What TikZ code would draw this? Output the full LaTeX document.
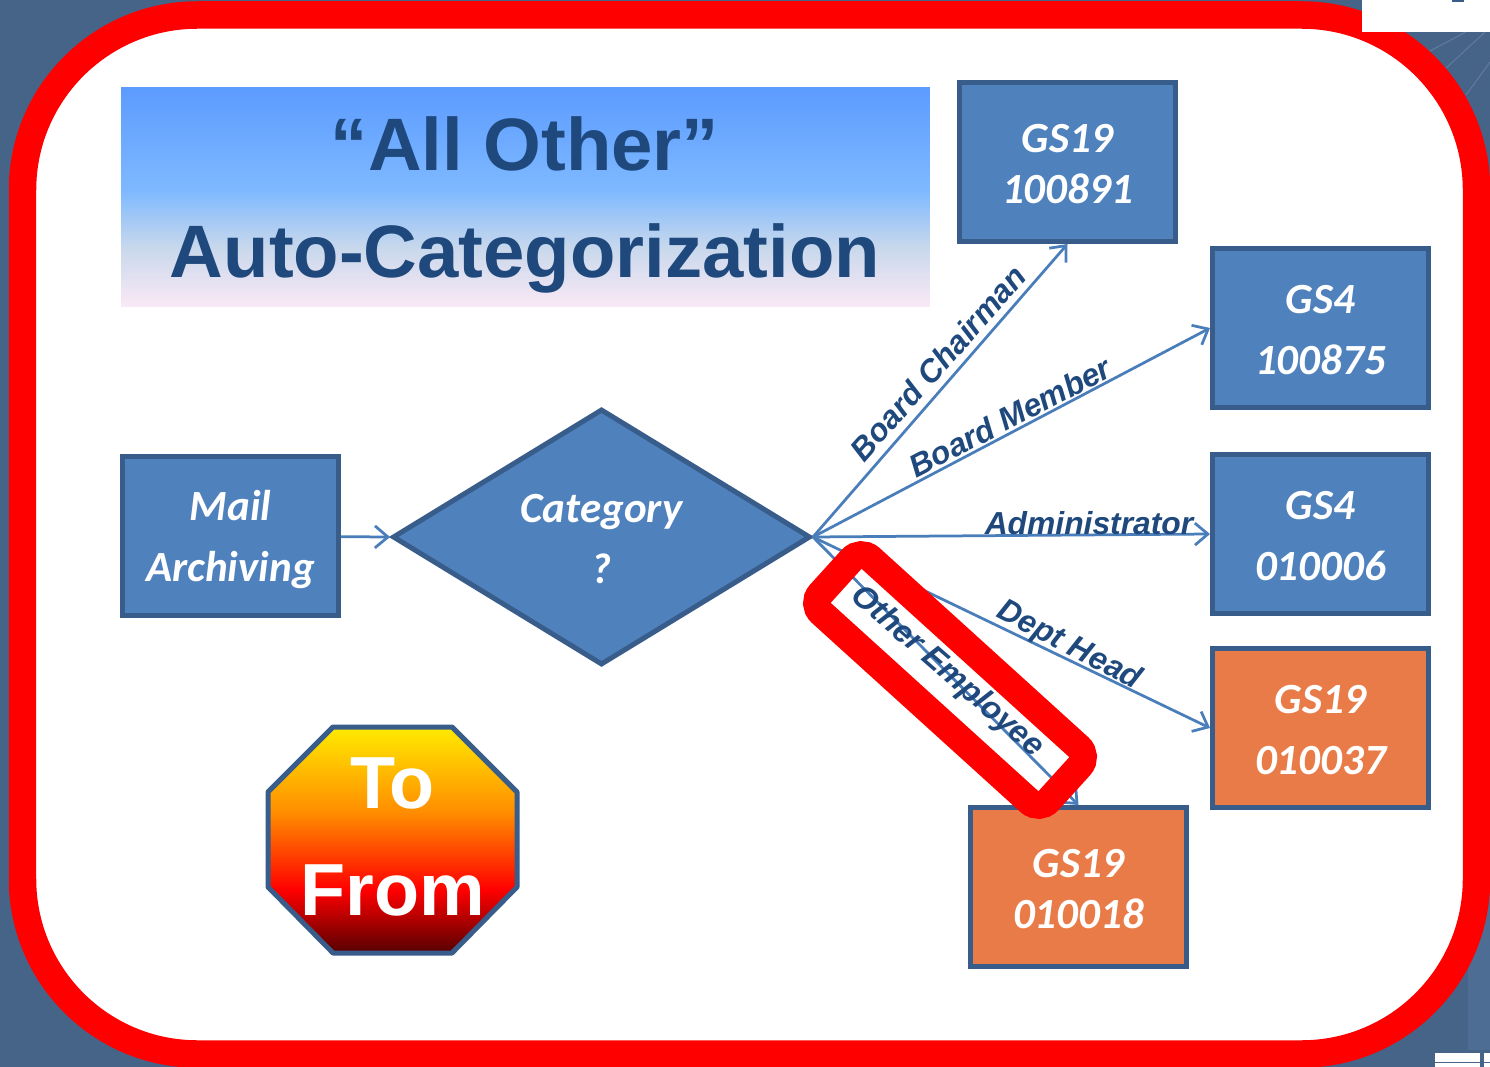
\documentclass[tikz,border=0pt]{standalone}
\usepackage{fontspec}
\setmainfont{Liberation Sans}
\newfontfamily\carlito{Carlito}
\usetikzlibrary{shapes.geometric,arrows.meta}
\definecolor{slide}{HTML}{466488}
\definecolor{panel}{HTML}{4E6D94}
\definecolor{navy}{HTML}{1F497D}
\definecolor{boxfill}{HTML}{4F81BD}
\definecolor{boxline}{HTML}{385D8A}
\definecolor{orangefill}{HTML}{E97B48}
\definecolor{wire}{HTML}{4A7EBB}
\definecolor{skyblue}{HTML}{5C9BFF}
\definecolor{midblue}{HTML}{7EB9FF}
\definecolor{greyblue}{HTML}{C8D8EC}
\definecolor{palepink}{HTML}{FBE9F6}
\definecolor{darkred}{HTML}{560000}
\definecolor{signyellow}{HTML}{FFEA00}
\pgfdeclareverticalshading{tofrom}{100bp}{color(0bp)=(darkred); color(25bp)=(darkred); color(39bp)=(red); color(56bp)=(orange!90!yellow); color(75bp)=(signyellow); color(100bp)=(signyellow)}
\pgfdeclareverticalshading{titlefade}{100bp}{color(0bp)=(palepink); color(25bp)=(palepink); color(38.5bp)=(greyblue); color(51.5bp)=(midblue); color(75bp)=(skyblue); color(100bp)=(skyblue)}
\newcommand\toplift{\rule{0pt}{18.5pt}}
\tikzset{
  box/.style={draw=boxline, fill=boxfill, line width=0.1cm, minimum width=4.32cm, minimum height=3.18cm, inner sep=0pt, text=white, align=center, font=\carlito\bfseries\itshape\fontsize{24.5}{29}\selectfont},
  wide/.style={font=\carlito\bfseries\itshape\fontsize{24.5}{34.7}\selectfont},
  hot/.style={fill=orangefill},
  wirelabel/.style={text=navy, inner sep=0pt, font=\bfseries\itshape\fontsize{18.1}{20}\selectfont},
  wireline/.style={draw=wire, line width=0.055cm, -{Straight Barb[length=0.26cm,width=0.44cm]}},
}
\begin{document}
\begin{tikzpicture}[x=0.02cm,y=-0.02cm]
\useasboundingbox (0,0) rectangle (1490,1067);
\fill[slide] (0,0) rectangle (1490,1067);
\fill[panel] (1468,500) rectangle (1490,1050);
\path[draw=panel!90!white,line width=0.02cm] (1428,52) -- (1466,32);
\path[draw=panel!90!white,line width=0.02cm] (1444,70) -- (1485,32);
\path[draw=panel!90!white,line width=0.02cm] (1466,95) -- (1490,62);
\path[draw=red,fill=white,line width=0.55cm,rounded corners=3.5cm] (22.5,15) rectangle (1476.5,1054);
\fill[white] (1362,0) rectangle (1490,32);
\fill[boxline] (1452,0) rectangle (1464,2);
\fill[white] (1435,1053) rectangle (1480,1067);
\fill[white] (1484,1053) rectangle (1490,1067);
\path[draw=slide,line width=0.02cm] (1435,1062) -- (1490,1062);

\node[shading=titlefade, minimum width=16.18cm, minimum height=4.4cm, inner sep=0pt] (title) at (525.5,197) {};
\node[text=navy, align=center, inner sep=0pt, font=\bfseries\fontsize{42.3}{61}\selectfont] (titletext) at (525,205) {“All Other”\\Auto-Categorization};

\node[box, wide] (mail) at (230.5,536) {Mail\\Archivin\smash{g}};
\node[draw=boxline, fill=boxfill, line width=0.1cm, diamond, aspect=1.64, minimum width=8.36cm, minimum height=5.12cm, inner sep=0pt, text=white, align=center, font=\carlito\bfseries\itshape\fontsize{24.5}{34.7}\selectfont] (cat) at (601.5,537) {\toplift Category\\?};

\node[box] (chair) at (1067.5,162) {\toplift GS19\\100891};
\node[box, wide] (member) at (1320.5,328) {\toplift GS4\\100875};
\node[box, wide] (admin) at (1320.5,534) {\toplift GS4\\010006};
\node[box, wide, hot] (head) at (1320.5,728) {\toplift GS19\\010037};
\node[box, hot] (other) at (1078.5,887) {\toplift GS19\\010018};

\path[wireline] (mail) -- (cat.west);
\path[wireline] (cat.east) -- (chair.south);
\path[wireline] (cat.east) -- (member.west);
\path[wireline] (cat.east) -- (admin.west);
\path[wireline] (cat.east) -- (head.west);
\path[wireline] (cat.east) -- (other.north);

\node[wirelabel, rotate=48.5] (lchair) at (938,363) {Board Chairman};
\node[wirelabel, rotate=27.5] (lmember) at (1010,417) {Board Member};
\node[wirelabel] (ladmin) at (1089,523) {Administrator};
\node[wirelabel, rotate=-27.5] (lhead) at (1069,646) {Dept Head};
\node[wirelabel, rotate=-41] (lother) at (947,672) {Other Employee};

\node[draw=red, line width=0.55cm, rounded corners=0.27cm, rotate=-42.2, minimum width=6.16cm, minimum height=1.47cm, inner sep=0pt] (ring) at (950,680) {};

\path[draw=boxline, line width=0.1cm, line join=round, shading=tofrom] (333,727) -- (452,727) -- (517,792) -- (517,887) -- (452,953) -- (333,953) -- (268,887) -- (268,792) -- cycle;
\node[text=white, align=center, inner sep=0pt, font=\bfseries\fontsize{42}{61}\selectfont] (stopsign) at (392.5,837) {To\\From};
\end{tikzpicture}
\end{document}
